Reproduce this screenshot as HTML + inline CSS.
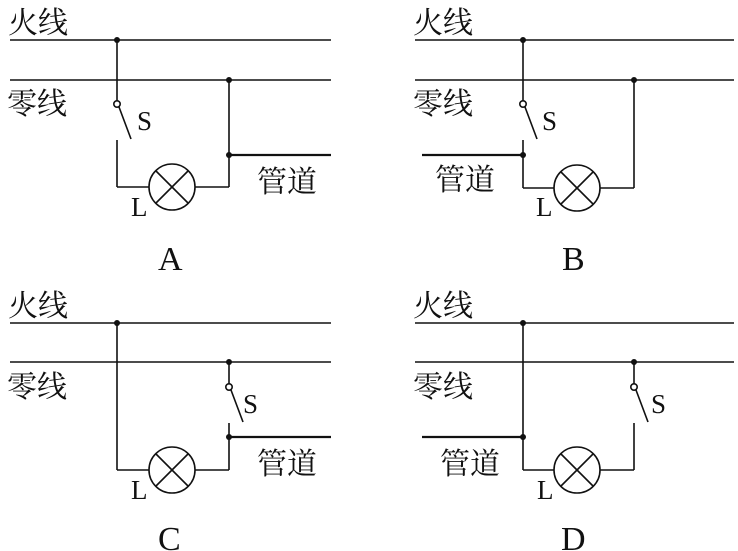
<!DOCTYPE html>
<html><head><meta charset="utf-8"><style>
html,body{margin:0;padding:0;background:#fff;}
svg{display:block;}
.cn{font-family:"Liberation Serif","Noto Serif CJK SC",serif;font-size:30px;fill:#111;}
.lt{font-family:"Liberation Serif",serif;fill:#111;}
</style></head><body>
<svg width="738" height="551" viewBox="0 0 738 551" xmlns="http://www.w3.org/2000/svg">
<g stroke="#111" stroke-width="1.6" fill="none">
<!-- A -->
<line x1="10" y1="40" x2="331" y2="40"/><line x1="10" y1="80" x2="331" y2="80"/>
<line x1="117" y1="40" x2="117" y2="101"/>
<circle cx="117" cy="104" r="3.2"/>
<line x1="119" y1="107" x2="131" y2="139"/>
<line x1="117" y1="140" x2="117" y2="187"/>
<line x1="117" y1="187" x2="149" y2="187"/>
<circle cx="172" cy="187" r="23"/>
<line x1="156" y1="171" x2="188" y2="203"/><line x1="188" y1="171" x2="156" y2="203"/>
<line x1="195" y1="187" x2="229" y2="187"/>
<line x1="229" y1="80" x2="229" y2="187"/>
<line x1="229" y1="155" x2="331" y2="155" stroke-width="2.2"/>
<!-- B -->
<line x1="415" y1="40" x2="734" y2="40"/><line x1="415" y1="80" x2="734" y2="80"/>
<line x1="523" y1="40" x2="523" y2="101"/>
<circle cx="523" cy="104" r="3.2"/>
<line x1="525" y1="107" x2="537" y2="139"/>
<line x1="523" y1="140" x2="523" y2="188"/>
<line x1="523" y1="188" x2="554" y2="188"/>
<circle cx="577" cy="188" r="23"/>
<line x1="561" y1="172" x2="593" y2="204"/><line x1="593" y1="172" x2="561" y2="204"/>
<line x1="600" y1="188" x2="634" y2="188"/>
<line x1="634" y1="80" x2="634" y2="188"/>
<line x1="422" y1="155" x2="523" y2="155" stroke-width="2.2"/>
<!-- C -->
<line x1="10" y1="323" x2="331" y2="323"/><line x1="10" y1="362" x2="331" y2="362"/>
<line x1="117" y1="323" x2="117" y2="470"/>
<line x1="117" y1="470" x2="149" y2="470"/>
<circle cx="172" cy="470" r="23"/>
<line x1="156" y1="454" x2="188" y2="486"/><line x1="188" y1="454" x2="156" y2="486"/>
<line x1="195" y1="470" x2="229" y2="470"/>
<line x1="229" y1="362" x2="229" y2="384"/>
<circle cx="229" cy="387" r="3.2"/>
<line x1="231" y1="390" x2="243" y2="422"/>
<line x1="229" y1="423" x2="229" y2="470"/>
<line x1="229" y1="437" x2="331" y2="437" stroke-width="2.2"/>
<!-- D -->
<line x1="415" y1="323" x2="734" y2="323"/><line x1="415" y1="362" x2="734" y2="362"/>
<line x1="523" y1="323" x2="523" y2="470"/>
<line x1="523" y1="470" x2="554" y2="470"/>
<circle cx="577" cy="470" r="23"/>
<line x1="561" y1="454" x2="593" y2="486"/><line x1="593" y1="454" x2="561" y2="486"/>
<line x1="600" y1="470" x2="634" y2="470"/>
<line x1="634" y1="362" x2="634" y2="384"/>
<circle cx="634" cy="387" r="3.2"/>
<line x1="636" y1="390" x2="648" y2="422"/>
<line x1="634" y1="423" x2="634" y2="470"/>
<line x1="422" y1="437" x2="523" y2="437" stroke-width="2.2"/>
</g>
<g fill="#111">
<circle cx="117" cy="40" r="3"/><circle cx="229" cy="80" r="3"/><circle cx="229" cy="155" r="3"/>
<circle cx="523" cy="40" r="3"/><circle cx="634" cy="80" r="3"/><circle cx="523" cy="155" r="3"/>
<circle cx="117" cy="323" r="3"/><circle cx="229" cy="362" r="3"/><circle cx="229" cy="437" r="3"/>
<circle cx="523" cy="323" r="3"/><circle cx="634" cy="362" r="3"/><circle cx="523" cy="437" r="3"/>
</g>
<g class="cn">
<text x="8" y="33">火线</text><text x="7" y="114">零线</text><text x="257" y="192">管道</text>
<text x="413" y="33">火线</text><text x="413" y="114">零线</text><text x="435" y="190">管道</text>
<text x="8" y="316">火线</text><text x="7" y="397">零线</text><text x="257" y="474">管道</text>
<text x="413" y="316">火线</text><text x="413" y="397">零线</text><text x="440" y="474">管道</text>
</g>
<g class="lt" font-size="27">
<text x="137" y="130">S</text><text x="131" y="216">L</text>
<text x="542" y="130">S</text><text x="536" y="216">L</text>
<text x="243" y="413">S</text><text x="131" y="499">L</text>
<text x="651" y="413">S</text><text x="537" y="499">L</text>
</g>
<g class="lt" font-size="34">
<text x="158" y="270">A</text><text x="562" y="270">B</text>
<text x="158" y="550">C</text><text x="561" y="550">D</text>
</g>
</svg>
</body></html>
